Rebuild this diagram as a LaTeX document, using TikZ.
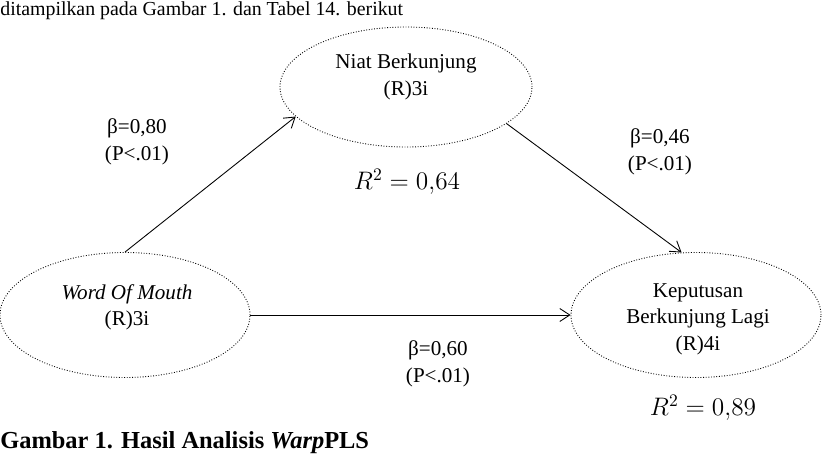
\documentclass[tikz,border=0pt]{standalone}
\usepackage{fontspec}
\setmainfont{Liberation Serif}
\usetikzlibrary{arrows.meta,positioning,shapes.geometric}

\begin{document}
\begin{tikzpicture}[
    latent/.style={draw, ellipse, densely dotted, line width=0.5pt, minimum width=5cm, minimum height=2.5cm, inner sep=0pt},
    lbl/.style={align=center, inner sep=0pt, font=\fontsize{12}{15}\selectfont},
    coef/.style={align=center, inner sep=0pt, font=\fontsize{12}{15.5}\selectfont},
    rsq/.style={inner sep=0pt, font=\fontsize{14.5}{16}\selectfont},
    effect/.style={-{Straight Barb[length=2mm,width=2.6mm]}, line width=0.5pt},
]
\useasboundingbox (0,0) rectangle (16.44,-9.12);

\node[anchor=base west, inner sep=0pt, font=\fontsize{11.3}{14}\selectfont] (intro) at (0,-0.30) {ditampilkan pada Gambar 1. dan Tabel 14. berikut};

\node[latent, minimum width=5.04cm, minimum height=2.4cm] (niat) at (8.12,-1.74) {};
\node[latent] (wom) at (2.5,-6.3) {};
\node[latent] (kep) at (13.92,-6.3) {};

\node[lbl] (niattxt) at (8.12,-1.54) {Niat Berkunjung\\(R)3i};
\node[lbl] (womtxt) at (2.54,-6.14) {\textit{Word Of Mouth}\\(R)3i};
\node[lbl] (keptxt) at (13.96,-6.38) {Keputusan\\Berkunjung Lagi\\(R)4i};

\draw[effect] (wom.north) -- (niat.195);
\draw[effect] (niat.340) -- (kep.103);
\draw[effect] (wom.east) -- (kep.west);

\node[coef] (b1) at (2.74,-2.84) {β=0,80\\(P<.01)};
\node[coef] (b2) at (13.2,-3.04) {β=0,46\\(P<.01)};
\node[coef] (b3) at (8.76,-7.28) {β=0,60\\(P<.01)};

\node[rsq] (r1) at (8.14,-3.64) {$R^2=0{,}64$};
\node[rsq] (r2) at (14.06,-8.16) {$R^2=0{,}89$};

\node[anchor=base west, inner sep=0pt, font=\fontsize{13.9}{16}\selectfont\bfseries] (caption) at (0,-8.96) {Gambar 1. Hasil Analisis \textit{Warp}PLS};
\end{tikzpicture}
\end{document}
